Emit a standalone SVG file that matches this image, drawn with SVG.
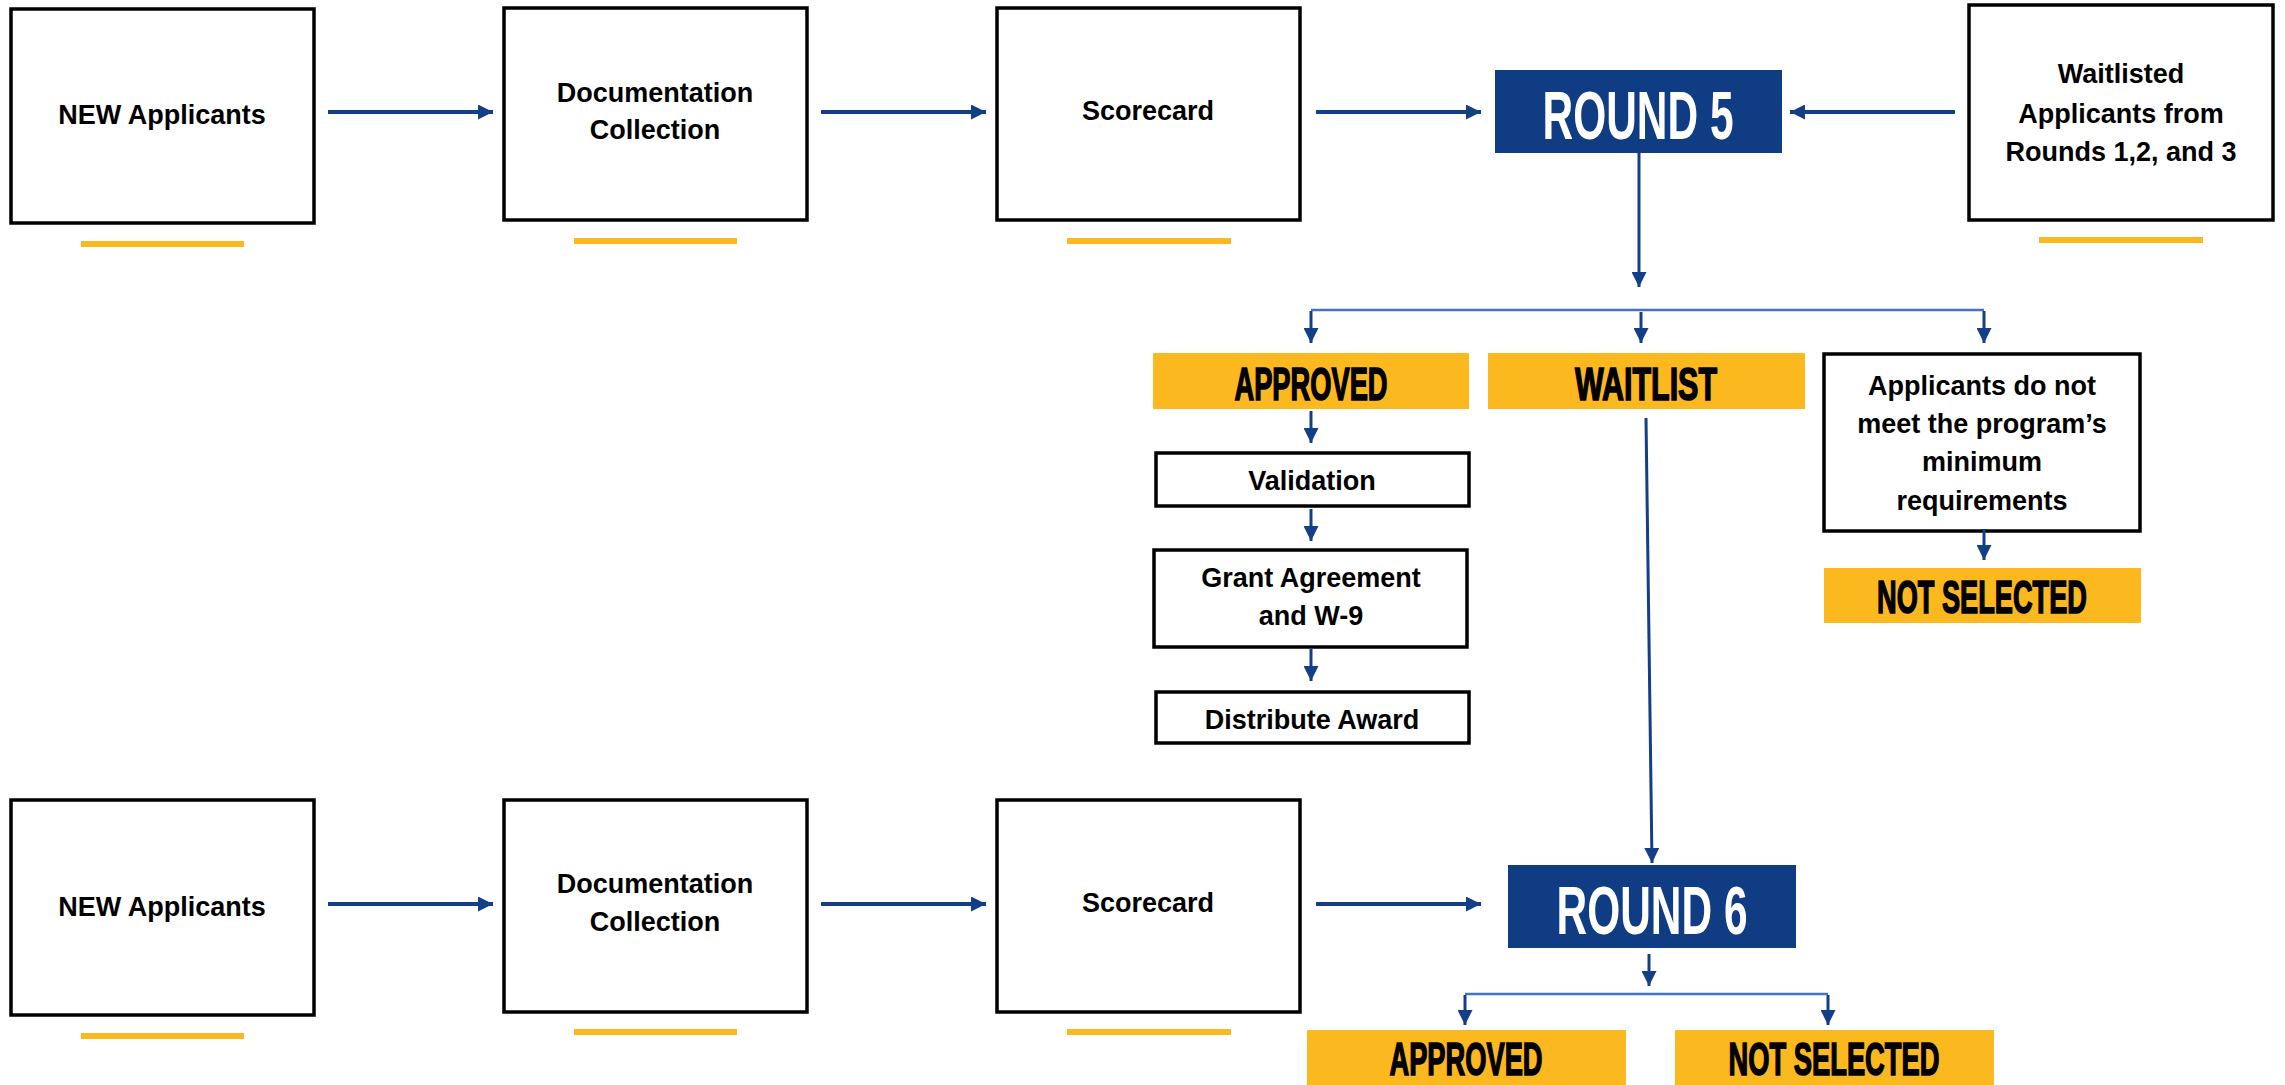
<svg xmlns="http://www.w3.org/2000/svg" width="2285" height="1085" viewBox="0 0 2285 1085">
<style>
.box{fill:#fff;stroke:#000;stroke-width:3.5}
.navy{fill:#0F3C82}
.yel{fill:#FCB81F}
.ul{stroke:#FCB81F;stroke-width:6}
.t{font-family:"Liberation Sans",Arial,sans-serif;font-weight:bold;font-size:27px;fill:#000;text-anchor:middle}
.h{font-family:"Liberation Sans",Arial,sans-serif;font-weight:bold;font-size:47px;fill:#000;stroke:#000;stroke-width:1.6;text-anchor:middle}
.hw{font-family:"Liberation Sans",Arial,sans-serif;font-weight:bold;font-size:68px;fill:#fff;text-anchor:middle}
.c{stroke:#123F86;stroke-width:3;fill:none}
.c4{stroke:#123F86;stroke-width:4;fill:none}
.br{stroke:#4472C4;stroke-width:2.5;fill:none}
</style>
<defs>
<marker id="ah" viewBox="0 0 10 10" refX="10" refY="5" markerWidth="16" markerHeight="15" markerUnits="userSpaceOnUse" orient="auto">
<path d="M0,0 L10,5 L0,10 z" fill="#123F86"/>
</marker>
</defs>
<rect width="2285" height="1085" fill="#fff"/>

<g id="new1"><rect class="box" x="11" y="9" width="303" height="214"/><text class="t" x="162" y="124">NEW Applicants</text><line class="ul" x1="81" y1="244" x2="244" y2="244"/></g>
<g id="doc1"><rect class="box" x="504" y="8" width="303" height="212"/><text class="t" x="655" y="102">Documentation</text><text class="t" x="655" y="139">Collection</text><line class="ul" x1="574" y1="241" x2="737" y2="241"/></g>
<g id="score1"><rect class="box" x="997" y="8" width="303" height="212"/><text class="t" x="1148" y="120">Scorecard</text><line class="ul" x1="1067" y1="241" x2="1231" y2="241"/></g>
<g id="round5"><rect class="navy" x="1495" y="70" width="287" height="83"/><text class="hw" x="1638" y="139" textLength="191" lengthAdjust="spacingAndGlyphs">ROUND 5</text></g>
<g id="waitlisted"><rect class="box" x="1969" y="5" width="304" height="215"/><text class="t" x="2121" y="83">Waitlisted</text><text class="t" x="2121" y="123">Applicants from</text><text class="t" x="2121" y="161">Rounds 1,2, and 3</text><line class="ul" x1="2039" y1="240" x2="2203" y2="240"/></g>

<g id="approved1"><rect class="yel" x="1153" y="353" width="316" height="56"/><text class="h" x="1311" y="400" textLength="153" lengthAdjust="spacingAndGlyphs">APPROVED</text></g>
<g id="waitlist"><rect class="yel" x="1488" y="353" width="317" height="56"/><text class="h" x="1646" y="400" textLength="142" lengthAdjust="spacingAndGlyphs">WAITLIST</text></g>
<g id="notmeet"><rect class="box" x="1824" y="354" width="316" height="177"/><text class="t" x="1982" y="395">Applicants do not</text><text class="t" x="1982" y="433">meet the program’s</text><text class="t" x="1982" y="471">minimum</text><text class="t" x="1982" y="510">requirements</text></g>
<g id="notsel1"><rect class="yel" x="1824" y="568" width="317" height="55"/><text class="h" x="1982" y="613" textLength="210" lengthAdjust="spacingAndGlyphs">NOT SELECTED</text></g>
<g id="validation"><rect class="box" x="1156" y="453" width="313" height="53"/><text class="t" x="1312" y="490">Validation</text></g>
<g id="grant"><rect class="box" x="1154" y="550" width="313" height="97"/><text class="t" x="1311" y="587">Grant Agreement</text><text class="t" x="1311" y="625">and W-9</text></g>
<g id="distribute"><rect class="box" x="1156" y="692" width="313" height="51"/><text class="t" x="1312" y="729">Distribute Award</text></g>

<g id="new2"><rect class="box" x="11" y="800" width="303" height="215"/><text class="t" x="162" y="916">NEW Applicants</text><line class="ul" x1="81" y1="1036" x2="244" y2="1036"/></g>
<g id="doc2"><rect class="box" x="504" y="800" width="303" height="212"/><text class="t" x="655" y="893">Documentation</text><text class="t" x="655" y="931">Collection</text><line class="ul" x1="574" y1="1032" x2="737" y2="1032"/></g>
<g id="score2"><rect class="box" x="997" y="800" width="303" height="212"/><text class="t" x="1148" y="912">Scorecard</text><line class="ul" x1="1067" y1="1032" x2="1231" y2="1032"/></g>
<g id="round6"><rect class="navy" x="1508" y="865" width="288" height="83"/><text class="hw" x="1652" y="934" textLength="191" lengthAdjust="spacingAndGlyphs">ROUND 6</text></g>
<g id="approved2"><rect class="yel" x="1307" y="1030" width="319" height="55"/><text class="h" x="1466" y="1075" textLength="153" lengthAdjust="spacingAndGlyphs">APPROVED</text></g>
<g id="notsel2"><rect class="yel" x="1675" y="1030" width="319" height="55"/><text class="h" x="1834" y="1075" textLength="211" lengthAdjust="spacingAndGlyphs">NOT SELECTED</text></g>

<g id="connectors">
<line class="c4" x1="328" y1="112" x2="493" y2="112" marker-end="url(#ah)"/>
<line class="c4" x1="821" y1="112" x2="986" y2="112" marker-end="url(#ah)"/>
<line class="c4" x1="1316" y1="112" x2="1481" y2="112" marker-end="url(#ah)"/>
<line class="c4" x1="1955" y1="112" x2="1790" y2="112" marker-end="url(#ah)"/>
<line class="c" x1="1639" y1="153" x2="1639" y2="287" marker-end="url(#ah)"/>
<line class="br" x1="1311" y1="310" x2="1984" y2="310"/>
<line class="c" x1="1311" y1="311" x2="1311" y2="343" marker-end="url(#ah)"/>
<line class="c" x1="1641" y1="312" x2="1641" y2="343" marker-end="url(#ah)"/>
<line class="c" x1="1984" y1="311" x2="1984" y2="343" marker-end="url(#ah)"/>
<line class="c" x1="1311" y1="411" x2="1311" y2="443" marker-end="url(#ah)"/>
<line class="c" x1="1311" y1="509" x2="1311" y2="541" marker-end="url(#ah)"/>
<line class="c" x1="1311" y1="649" x2="1311" y2="681" marker-end="url(#ah)"/>
<line class="c" x1="1984" y1="529" x2="1984" y2="560" marker-end="url(#ah)"/>
<line class="c" x1="1646" y1="418" x2="1652" y2="863" marker-end="url(#ah)"/>
<line class="c4" x1="328" y1="904" x2="493" y2="904" marker-end="url(#ah)"/>
<line class="c4" x1="821" y1="904" x2="986" y2="904" marker-end="url(#ah)"/>
<line class="c4" x1="1316" y1="904" x2="1481" y2="904" marker-end="url(#ah)"/>
<line class="c" x1="1649" y1="954" x2="1649" y2="986" marker-end="url(#ah)"/>
<line class="br" x1="1465" y1="994" x2="1828" y2="994"/>
<line class="c" x1="1465" y1="995" x2="1465" y2="1025" marker-end="url(#ah)"/>
<line class="c" x1="1828" y1="995" x2="1828" y2="1025" marker-end="url(#ah)"/>
</g>
</svg>
